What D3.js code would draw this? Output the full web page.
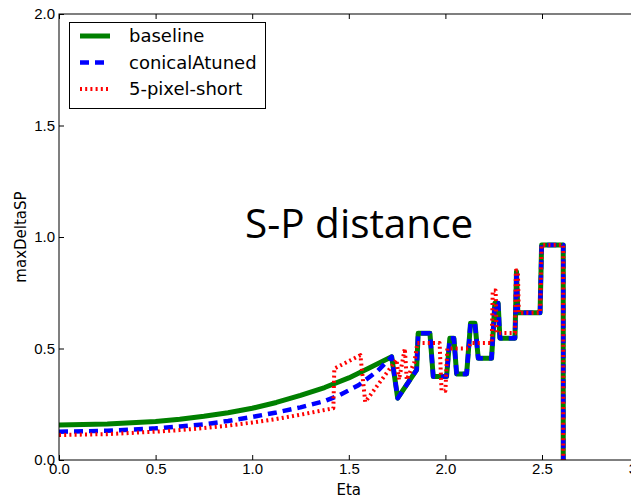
<!DOCTYPE html>
<html>
<head>
<meta charset="utf-8">
<script src="https://cdn.jsdelivr.net/npm/d3@7"></script>
<style>
  body { margin: 0; background: #fff; }
  svg { display: block; font-family: "DejaVu Sans", sans-serif; }
  .axis text { font-size: 15px; fill: #000; }
  .axis path, .axis line { stroke: #000; }
</style>
</head>
<body>
<div class="main"></div>
<script>
// data
const etaBase = [0, 0.25, 0.5, 0.625, 0.75, 0.875, 1.0, 1.125, 1.25, 1.375, 1.5, 1.6, 1.722, 1.753, 1.851, 1.859, 1.92, 1.937, 2.006,
  2.023, 2.044, 2.058, 2.11, 2.13, 2.153, 2.17, 2.239, 2.256, 2.273, 2.282, 2.36, 2.368, 2.375, 2.49, 2.498, 2.61, 2.61];
const baseline = [0.157, 0.161, 0.173, 0.183, 0.196, 0.212, 0.232, 0.258, 0.29, 0.325, 0.368, 0.41, 0.463, 0.277, 0.404, 0.568, 0.568, 0.374, 0.374,
  0.546, 0.546, 0.386, 0.386, 0.613, 0.613, 0.456, 0.456, 0.703, 0.703, 0.546, 0.546, 0.845, 0.66, 0.66, 0.964, 0.964, -0.1];

const etaConical = [0, 0.25, 0.5, 0.625, 0.75, 0.875, 1.0, 1.125, 1.25, 1.375, 1.45, 1.55, 1.65, 1.722, 1.753, 1.851, 1.859, 1.92, 1.937, 2.006,
  2.023, 2.044, 2.058, 2.11, 2.13, 2.153, 2.17, 2.239, 2.256, 2.273, 2.282, 2.36, 2.368, 2.375, 2.49, 2.498, 2.61, 2.61];
const conical = [0.127, 0.131, 0.142, 0.15, 0.16, 0.175, 0.193, 0.213, 0.236, 0.264, 0.29, 0.335, 0.4, 0.463, 0.277, 0.404, 0.568, 0.568, 0.374, 0.374,
  0.546, 0.546, 0.386, 0.386, 0.613, 0.613, 0.456, 0.456, 0.703, 0.703, 0.546, 0.546, 0.845, 0.66, 0.66, 0.964, 0.964, -0.1];

const etaShort = [0, 0.25, 0.5, 0.625, 0.75, 0.875, 1.0, 1.125, 1.25, 1.35, 1.42, 1.425, 1.56, 1.585, 1.747, 1.76, 1.79, 1.8, 1.84, 1.855, 1.97, 1.98,
  2.0, 2.01, 2.12, 2.13, 2.24, 2.245, 2.26, 2.265, 2.36, 2.365, 2.375, 2.38, 2.49, 2.498, 2.61, 2.61];
const short = [0.112, 0.116, 0.127, 0.134, 0.143, 0.154, 0.168, 0.184, 0.203, 0.22, 0.232, 0.41, 0.47, 0.26, 0.45, 0.36, 0.5, 0.36, 0.44, 0.525, 0.525, 0.31,
  0.31, 0.5, 0.5, 0.525, 0.525, 0.76, 0.76, 0.57, 0.57, 0.85, 0.85, 0.66, 0.66, 0.964, 0.964, -0.1];

const seriesNames = ['baseline', 'conicalAtuned', '5-pixel-short'];
const xTicks = [0, 0.5, 1.0, 1.5, 2.0, 2.5, 3.0];
const yTicks = [0, 0.5, 1.0, 1.5, 2.0];

const width = 631;
const height = 498;
const plotLeft = 59, plotTop = 14, plotRight = 638.6, plotBottom = 460;

const svg = d3.select('.main').append('svg')
  .attr('width', width)
  .attr('height', height);

const xScale = d3.scaleLinear().domain([0, 3]).range([plotLeft, plotRight]);
const yScale = d3.scaleLinear().domain([0, 2]).range([plotBottom, plotTop]);

svg.append('clipPath').attr('id', 'plot')
  .append('rect')
  .attr('x', plotLeft).attr('y', plotTop)
  .attr('width', plotRight - plotLeft).attr('height', plotBottom - plotTop);

const styles = [
  { color: '#008000', w: 5, dash: null },
  { color: '#0000ff', w: 4.5, dash: '9,6' },
  { color: '#ff0000', w: 4, dash: '2,3.2' }
];
const series = [
  d3.zip(etaBase, baseline),
  d3.zip(etaConical, conical),
  d3.zip(etaShort, short)
];

const line = d3.line()
  .x(d => xScale(d[0]))
  .y(d => yScale(d[1]));

const plot = svg.append('g').attr('clip-path', 'url(#plot)');
series.forEach((s, i) => {
  plot.append('path')
    .datum(s)
    .attr('d', line)
    .attr('fill', 'none')
    .attr('stroke', styles[i].color)
    .attr('stroke-width', styles[i].w)
    .attr('stroke-linejoin', 'round')
    .attr('stroke-dasharray', styles[i].dash);
});

// frame
svg.append('rect')
  .attr('x', plotLeft).attr('y', plotTop)
  .attr('width', plotRight - plotLeft).attr('height', plotBottom - plotTop)
  .attr('fill', 'none').attr('stroke', '#000').attr('stroke-width', 1);

const fmt = d3.format('.1f');

svg.append('g')
  .attr('class', 'axis')
  .attr('transform', `translate(0, ${plotBottom})`)
  .call(d3.axisBottom(xScale).tickValues(xTicks).tickFormat(fmt).tickSizeInner(-5).tickSizeOuter(0).tickPadding(3));

svg.append('g')
  .attr('class', 'axis')
  .attr('transform', `translate(0, ${plotTop})`)
  .call(d3.axisTop(xScale).tickValues(xTicks).tickFormat('').tickSizeInner(-5).tickSizeOuter(0));

svg.append('g')
  .attr('class', 'axis')
  .attr('transform', `translate(${plotLeft}, 0)`)
  .call(d3.axisLeft(yScale).tickValues(yTicks).tickFormat(fmt).tickSizeInner(-5).tickSizeOuter(0).tickPadding(4));

svg.selectAll('.axis .domain').remove();

svg.append('text')
  .attr('x', (plotLeft + plotRight) / 2).attr('y', 495)
  .attr('text-anchor', 'middle')
  .style('font-size', '15px')
  .text('Eta');

svg.append('text')
  .attr('transform', `translate(26, ${(plotTop + plotBottom) / 2}) rotate(-90)`)
  .attr('text-anchor', 'middle')
  .style('font-size', '15px')
  .text('maxDeltaSP');

// legend
const legend = svg.append('g');
legend.append('rect')
  .attr('x', 69.5).attr('y', 22.5)
  .attr('width', 196).attr('height', 86)
  .attr('fill', '#fff').attr('stroke', '#000').attr('stroke-width', 1);
seriesNames.forEach((name, i) => {
  const ly = 36 + i * 26.5;
  legend.append('line')
    .attr('x1', 80).attr('x2', 110)
    .attr('y1', ly).attr('y2', ly)
    .attr('stroke', styles[i].color)
    .attr('stroke-width', styles[i].w)
    .attr('stroke-dasharray', styles[i].dash);
  legend.append('text')
    .attr('x', 129).attr('y', ly)
    .attr('dy', '0.35em')
    .style('font-size', '18px')
    .text(name);
});

// overlay title
svg.append('text')
  .attr('x', 245).attr('y', 238)
  .style('font-family', '"Open Sans", sans-serif')
  .style('font-size', '40.5px')
  .attr('fill', '#000')
  .text('S-P distance');
</script>
</body>
</html>
